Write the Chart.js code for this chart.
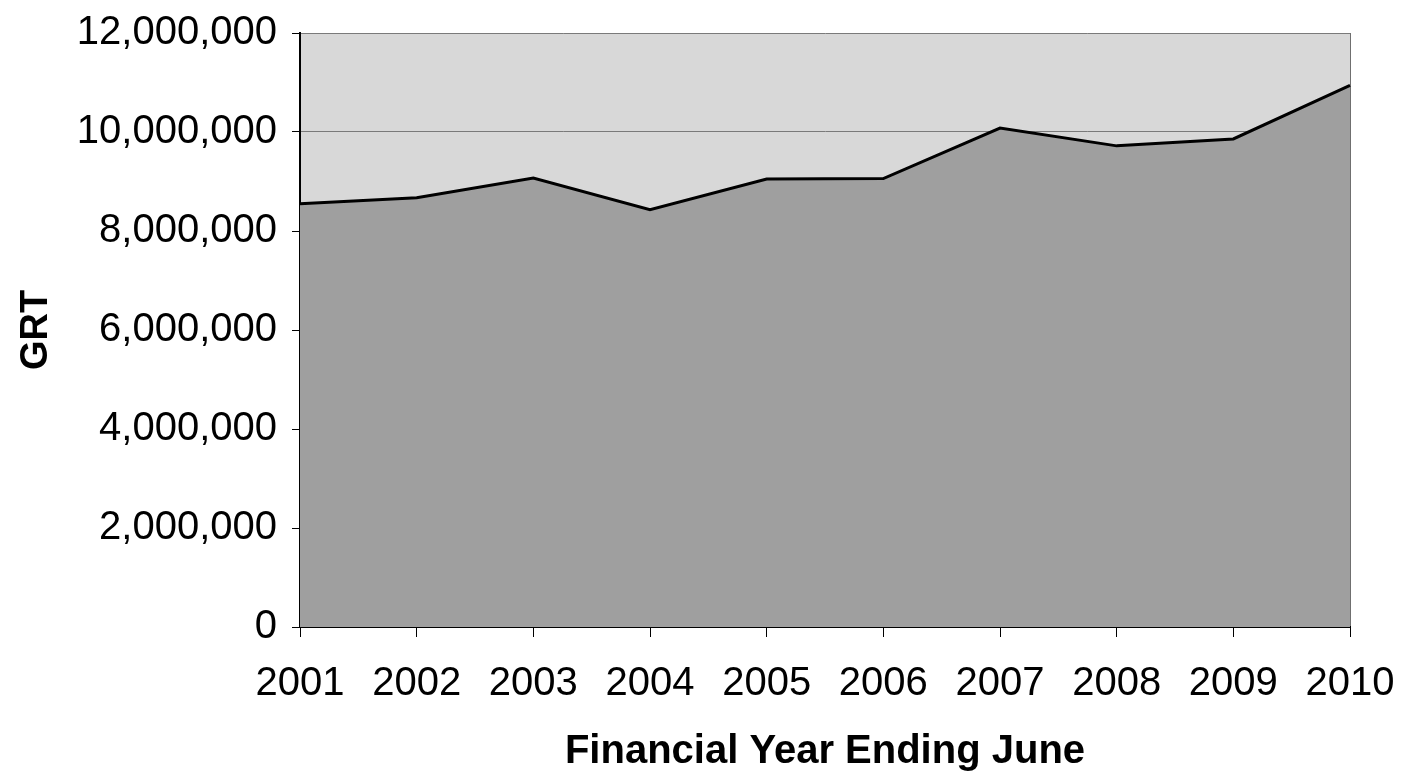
<!DOCTYPE html>
<html>
<head>
<meta charset="utf-8">
<title>GRT by Financial Year</title>
<script src="https://cdn.jsdelivr.net/npm/chart.js@4/dist/chart.umd.min.js"></script>
<style>
  html, body { margin: 0; padding: 0; background: #ffffff; }
  #wrap { width: 1413px; height: 778px; position: relative; }
</style>
</head>
<body>
<div id="wrap"><canvas id="grtChart"></canvas></div>
<script>
const years = ["2001", "2002", "2003", "2004", "2005", "2006", "2007", "2008", "2009", "2010"];
const grt = [8550000, 8670000, 9070000, 8430000, 9050000, 9060000, 10080000, 9720000, 9860000, 10940000];
const yTicks = [0, 2000000, 4000000, 6000000, 8000000, 10000000, 12000000];

const FONT = "'Liberation Sans', Arial, sans-serif";

// light grey plot background behind the area
const plotBackground = {
  id: "plotBackground",
  beforeDraw(chart) {
    const { ctx, chartArea: a } = chart;
    ctx.save();
    ctx.fillStyle = "#d8d8d8";
    ctx.fillRect(a.left, a.top, a.right - a.left, a.bottom - a.top);
    ctx.strokeStyle = "#6f6f6f";
    ctx.lineWidth = 1;
    ctx.beginPath();
    ctx.moveTo(a.right + 0.5, a.top);
    ctx.lineTo(a.right + 0.5, a.bottom);
    ctx.stroke();
    ctx.restore();
  },
};

const fmt = (v) => v.toLocaleString("en-US");

new Chart(document.getElementById("grtChart"), {
  type: "line",
  data: {
    labels: years,
    datasets: [
      {
        label: "GRT",
        data: grt,
        borderColor: "#000000",
        borderWidth: 3,
        backgroundColor: "#9f9f9f",
        fill: "origin",
        pointRadius: 0,
        tension: 0,
      },
    ],
  },
  options: {
    responsive: true,
    maintainAspectRatio: false,
    animation: false,
    layout: { padding: { top: 33, right: 63, left: 0, bottom: 0 } },
    plugins: { legend: { display: false }, tooltip: { enabled: false } },
    scales: {
      x: {
        offset: false,
        border: { color: "#000000", width: 2 },
        grid: { drawOnChartArea: false, drawTicks: true, tickLength: 10, tickColor: "#000000" },
        ticks: { color: "#000000", padding: 23, maxRotation: 0, font: { family: FONT, size: 40 } },
        title: {
          display: true,
          text: "Financial Year Ending June",
          color: "#000000",
          font: { family: FONT, size: 40, weight: "bold" },
          padding: { top: 0, bottom: 2 },
        },
        afterFit(scale) {
          scale.height = 151;
          // "2010" may hang past the plot edge
          scale.paddingLeft = 0;
          scale.paddingRight = 0;
        },
      },
      y: {
        min: 0,
        max: 12000000,
        border: { color: "#000000", width: 2 },
        grid: { color: "#7a7a7a", lineWidth: 1, tickLength: 8, tickColor: "#000000" },
        afterBuildTicks(scale) {
          scale.ticks = yTicks.map((v) => ({ value: v }));
        },
        ticks: {
          color: "#000000",
          padding: 15,
          font: { family: FONT, size: 40 },
          callback: (v) => fmt(v),
        },
        title: {
          display: true,
          text: "GRT",
          color: "#000000",
          font: { family: FONT, size: 38, weight: "bold" },
          padding: { top: 14, bottom: 0 },
        },
        afterFit(scale) {
          scale.width = 300;
          // keep the top label from pushing the plot area down
          scale.paddingTop = 10;
          scale.paddingBottom = 10;
        },
      },
    },
  },
  plugins: [plotBackground],
});
</script>
</body>
</html>
